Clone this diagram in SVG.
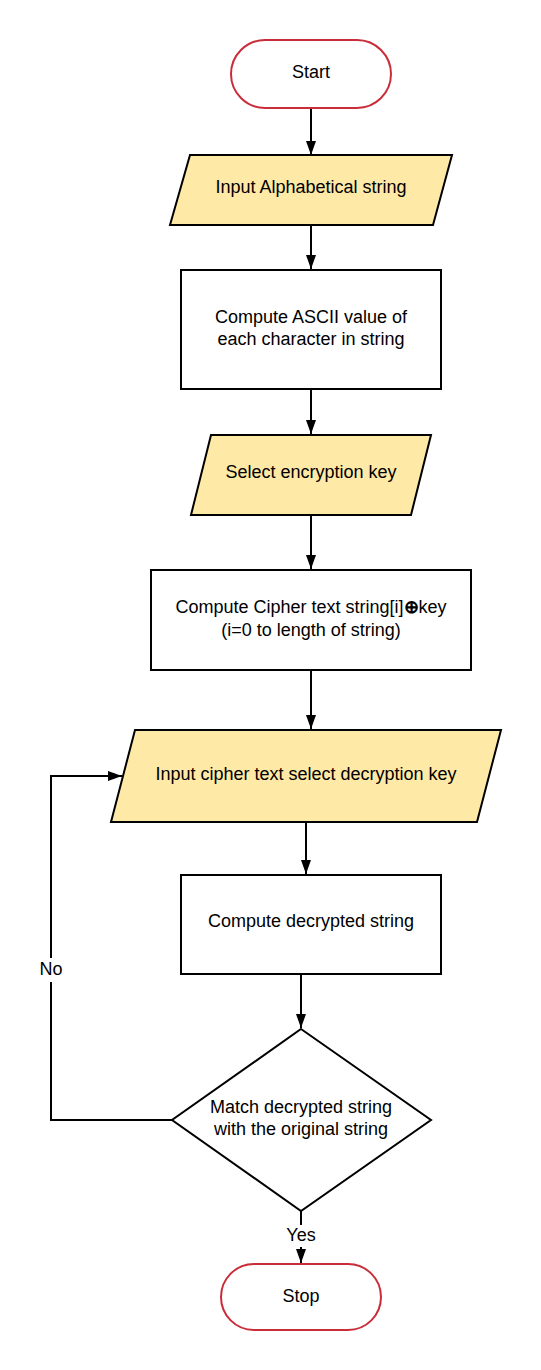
<svg xmlns="http://www.w3.org/2000/svg" width="541" height="1370" viewBox="0 0 541 1370">
<defs>
<style>
text{font-family:"Liberation Sans",Arial,sans-serif;font-size:18px;fill:#000;text-anchor:middle;dominant-baseline:central}
.term{fill:#fff;stroke:#C92D39;stroke-width:2}
.io{fill:#FFE9A6;stroke:#000;stroke-width:2}
.proc{fill:#fff;stroke:#000;stroke-width:2}
.edge{fill:none;stroke:#000;stroke-width:2}
</style>
<marker id="ah" markerWidth="14" markerHeight="10" refX="14" refY="5" orient="auto" markerUnits="userSpaceOnUse" viewBox="0 0 14 10">
<path d="M0,0 L14,5 L0,10 Z" fill="#000"/>
</marker>
</defs>
<rect width="541" height="1370" fill="#fff"/>
<g id="connectors">
<path class="edge" d="M311,108 V155" marker-end="url(#ah)"/>
<path class="edge" d="M311,225 V269" marker-end="url(#ah)"/>
<path class="edge" d="M311,389 V434" marker-end="url(#ah)"/>
<path class="edge" d="M311,515 V569" marker-end="url(#ah)"/>
<path class="edge" d="M311,670 V729" marker-end="url(#ah)"/>
<path class="edge" d="M306,822 V874" marker-end="url(#ah)"/>
<path class="edge" d="M301,974 V1028" marker-end="url(#ah)"/>
<path class="edge" d="M301,1211 V1225"/>
<path class="edge" d="M301,1247 V1263" marker-end="url(#ah)"/>
<path class="edge" d="M172,1120 H51 V982"/>
<path class="edge" d="M51,958 V776 H122" marker-end="url(#ah)"/>
<text x="301" y="1235">Yes</text>
<text x="51" y="969">No</text>
</g>
<g id="start">
<rect class="term" x="231" y="40" width="160" height="68" rx="34" ry="34"/>
<text x="311" y="72">Start</text>
</g>
<g id="input-string">
<polygon class="io" points="190,155 452,155 433,225 170,225"/>
<text x="311" y="187">Input Alphabetical string</text>
</g>
<g id="compute-ascii">
<rect class="proc" x="181" y="270" width="260" height="119"/>
<text x="311" y="317">Compute ASCII value of</text>
<text x="311" y="339">each character in string</text>
</g>
<g id="select-key">
<polygon class="io" points="211,435 431,435 411,515 191,515"/>
<text x="311" y="472">Select encryption key</text>
</g>
<g id="compute-cipher">
<rect class="proc" x="151" y="570" width="320" height="100"/>
<text x="311" y="607">Compute Cipher text string[i]<tspan font-weight="bold">⊕</tspan>key</text>
<text x="311" y="630">(i=0 to length of string)</text>
</g>
<g id="input-cipher">
<polygon class="io" points="135,730 501,730 477,822 111,822"/>
<text x="306" y="774">Input cipher text select decryption key</text>
</g>
<g id="compute-decrypted">
<rect class="proc" x="181" y="875" width="260" height="99"/>
<text x="311" y="921">Compute decrypted string</text>
</g>
<g id="match">
<polygon class="proc" points="301,1029 431,1120 301,1211 172,1120"/>
<text x="301" y="1107">Match decrypted string</text>
<text x="301" y="1129">with the original string</text>
</g>
<g id="stop">
<rect class="term" x="221" y="1264" width="160" height="66" rx="33" ry="33"/>
<text x="301" y="1296">Stop</text>
</g>
</svg>
